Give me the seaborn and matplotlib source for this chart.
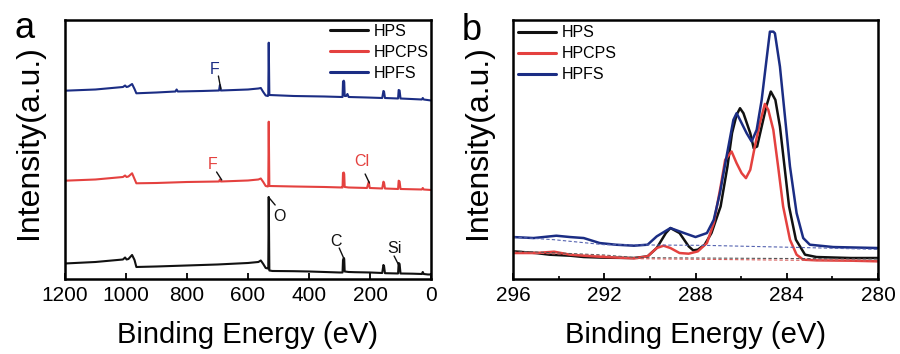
import matplotlib
matplotlib.use("Agg")
import matplotlib.pyplot as plt
import seaborn as sns
import pandas as pd

# ---------------- data: panel a (survey) ----------------
samples = ["HPS", "HPCPS", "HPFS"]
colors = ["#111111", "#e4413f", "#1b2d84"]

hps_E = [1200, 1100, 1010, 1003, 998, 992, 980, 972, 966, 900, 800, 700, 600, 566, 558, 550, 542, 535,
         533.5, 532, 530, 520, 450, 400, 350, 300, 290, 288.5, 286, 284.5, 283, 270, 250, 200, 160, 156,
         154, 151, 108, 106, 103, 100, 60, 30, 27, 24, 10, 0]
hps_I = [16.5, 18, 20.5, 22.5, 20.5, 21, 25, 20, 13, 13.5, 14.5, 15.5, 17, 18, 19.5, 16, 12, 11.5,
         12, 83, 9.5, 9, 8.8, 8.5, 8, 7.5, 7.5, 20, 22, 21, 8.5, 8, 7.8, 7.5, 7, 15,
         14, 6.8, 6.5, 17, 16, 6.5, 6.3, 6, 8, 6, 5.5, 5.5]

hpc_E = [1200, 1100, 1010, 1003, 998, 992, 980, 972, 966, 900, 800, 695, 692, 689, 600, 566, 558, 550,
         542, 535, 533.5, 532, 530, 450, 350, 292, 290, 288.5, 286, 284.5, 283, 270, 210, 204, 201, 160,
         156, 154, 151, 108, 106, 103, 100, 30, 27, 24, 0]
hpc_I = [99.3, 100.5, 103, 104.5, 103, 103.5, 106.7, 101, 96.7, 97, 98, 98.5, 100.5, 98.5, 99.5, 100.5,
         101.5, 98, 94, 93.5, 94, 158.3, 94, 93.5, 93, 92.5, 92.5, 107, 107.5, 106, 93, 92.5, 92, 98.3,
         92, 91.5, 98.3, 97.5, 91.5, 91, 99.3, 98.5, 91, 90.5, 92, 90.5, 90]

hpf_E = [1200, 1100, 1010, 1003, 998, 992, 980, 972, 966, 900, 838, 834, 830, 750, 695, 692, 689, 600,
         566, 558, 550, 542, 535, 533.5, 532, 530, 450, 350, 292, 290, 288.5, 286, 284.5, 283, 278, 274,
         270, 210, 160, 156, 154, 151, 108, 106, 103, 100, 30, 27, 24, 0]
hpf_I = [189.3, 190.5, 193, 194.5, 193, 193.5, 196, 191, 186.7, 187.5, 188.5, 190.5, 188.5, 189, 189.5,
         195, 189.5, 190.5, 191.5, 192, 188, 184.5, 184, 184.5, 237.3, 185, 184, 183.5, 183, 183, 198.5,
         199.3, 198, 184, 184, 186, 183, 182.5, 182, 189, 188.5, 182, 181.5, 190, 189.5, 181.5, 180.5,
         182, 180.5, 179.5]

# annotations panel a: (label, sample, text E, text I, leader start, leader end)
ann_labels = ["O", "C", "Si", "F", "Cl", "F"]
ann_sample = ["HPS", "HPS", "HPS", "HPCPS", "HPCPS", "HPFS"]
ann_text_E = [497, 311, 121, 716, 227, 708]
ann_text_I = [63, 38, 31, 115, 118, 210]
ann_l0_E = [533, 301, 121, 703, 216, 697]
ann_l0_I = [83, 32, 24, 108, 106, 204]
ann_l1_E = [511, 285, 106, 686, 202, 689]
ann_l1_I = [75, 21, 15, 100, 97, 191]

# ---------------- data: panel b (C 1s) ----------------
hps_bE = [296, 295.0, 294.4, 293.5, 292.9, 292.0, 290.7, 290.1, 289.7, 289.3, 289.1, 288.7, 288.3, 288.1,
          287.9, 287.6, 287.3, 286.9, 286.6, 286.4, 286.2, 286.05, 285.9, 285.6, 285.45, 285.3, 285.1,
          284.9, 284.7, 284.5, 284.3, 284.1, 283.9, 283.6, 283.2, 282.7, 281.2, 280]
hps_bI = [85, 80, 75, 72, 68, 66, 65, 70, 95, 140, 155, 140, 100, 88, 90, 105, 140, 220, 340, 440, 495,
          515, 500, 440, 395, 400, 460, 520, 565, 540, 460, 340, 220, 120, 75, 68, 65, 65]

hpc_bE = [296, 295.0, 294.2, 293.5, 292.9, 292.0, 290.7, 290.1, 289.7, 289.4, 289.1, 288.7, 288.3, 287.9,
          287.5, 287.2, 286.9, 286.7, 286.42, 286.2, 285.98, 285.79, 285.6, 285.4, 285.18, 284.96, 284.81,
          284.59, 284.38, 284.16, 283.86, 283.57, 283.28, 282.7, 281.2, 280]
hpc_bI = [80, 80, 84, 75, 72, 68, 64, 70, 95, 102, 95, 80, 78, 85, 110, 170, 280, 360, 385, 350, 320,
          305, 330, 400, 470, 528, 510, 450, 340, 220, 120, 75, 60, 58, 57, 55]

hpf_bE = [296, 295.1, 294.1, 293.5, 292.9, 292.2, 291.5, 290.7, 290.1, 289.7, 289.1, 288.5, 288.0, 287.5,
          287.2, 286.93, 286.64, 286.34, 286.2, 286.05, 285.76, 285.54, 285.32, 285.1, 284.89, 284.74,
          284.59, 284.52, 284.3, 284.08, 283.86, 283.57, 283.28, 282.99, 281.97, 280]
hpf_bI = [128, 125, 132, 128, 125, 110, 105, 102, 105, 130, 155, 140, 128, 140, 180, 260, 370, 480, 500,
          480, 440, 415, 450, 540, 660, 745, 745, 740, 640, 490, 340, 200, 125, 105, 98, 95]

# Shirley-type backgrounds (dashed)
hps_bgE = [296, 292, 290.6, 280]
hps_bgI = [86, 74, 66, 62]
hpc_bgE = [296, 292, 290.6, 280]
hpc_bgI = [82, 72, 63, 56]
hpf_bgE = [296, 294.2, 292.0, 287.6, 283, 280]
hpf_bgI = [128, 120, 105, 103, 96, 91]

xticks_a = [1200, 1000, 800, 600, 400, 200, 0]
xticks_b = [296, 292, 288, 284, 280]
xminor_b = [294, 290, 286, 282]

# ---------------- style ----------------
sns.set_style("ticks")
plt.rcParams["font.family"] = ["Liberation Sans", "DejaVu Sans"]
plt.rcParams["text.color"] = "black"
plt.rcParams["axes.labelcolor"] = "black"
plt.rcParams["xtick.color"] = "black"
plt.rcParams["xtick.labelcolor"] = "black"

fig = plt.figure(figsize=(9, 3.54), dpi=100)
ax_a = fig.add_axes([0.0722, 0.2119, 0.4067, 0.7316])
ax_b = fig.add_axes([0.5700, 0.2119, 0.4056, 0.7316])

palette = dict(zip(samples, colors))

survey = pd.concat([
    pd.DataFrame({"E": hps_E, "I": hps_I, "sample": "HPS"}),
    pd.DataFrame({"E": hpc_E, "I": hpc_I, "sample": "HPCPS"}),
    pd.DataFrame({"E": hpf_E, "I": hpf_I, "sample": "HPFS"}),
])
sns.lineplot(data=survey, x="E", y="I", hue="sample", hue_order=samples, palette=palette,
             estimator=None, sort=False, lw=1.5, ax=ax_a)

c1s = pd.concat([
    pd.DataFrame({"E": hps_bE, "I": hps_bI, "sample": "HPS"}),
    pd.DataFrame({"E": hpc_bE, "I": hpc_bI, "sample": "HPCPS"}),
    pd.DataFrame({"E": hpf_bE, "I": hpf_bI, "sample": "HPFS"}),
])
sns.lineplot(data=c1s, x="E", y="I", hue="sample", hue_order=samples, palette=palette,
             estimator=None, sort=False, lw=1.8, ax=ax_b)

bg = pd.concat([
    pd.DataFrame({"E": hps_bgE, "I": hps_bgI, "sample": "HPS"}),
    pd.DataFrame({"E": hpc_bgE, "I": hpc_bgI, "sample": "HPCPS"}),
    pd.DataFrame({"E": hpf_bgE, "I": hpf_bgI, "sample": "HPFS"}),
])
bg_pal = {"HPS": "#555555", "HPCPS": "#d85a58", "HPFS": "#5563b0"}
sns.lineplot(data=bg, x="E", y="I", hue="sample", hue_order=samples, palette=bg_pal,
             estimator=None, sort=False, lw=0.8, ls=(0, (3, 2)), legend=False, ax=ax_b)

# annotations
for lab, s, tx, ty, x0, y0, x1, y1 in zip(ann_labels, ann_sample, ann_text_E, ann_text_I,
                                          ann_l0_E, ann_l0_I, ann_l1_E, ann_l1_I):
    col = palette[s]
    ax_a.text(tx, ty, lab, color=col, fontsize=11.5, ha="center", va="center")
    ax_a.plot([x0, x1], [y0, y1], color="#111111", lw=1.0)

for ax, lim, ticks in [(ax_a, (1200, 0), xticks_a), (ax_b, (296, 280), xticks_b)]:
    ax.set_xlim(*lim)
    ax.set_xticks(ticks)
    ax.set_xticklabels([str(t) for t in ticks])
    ax.set_yticks([])
    ax.set_ylabel("Intensity(a.u.)", fontsize=23, color="black")
    ax.set_xlabel("Binding Energy (eV)", fontsize=21, va="baseline", color="black")
    ax.tick_params(axis="x", direction="in", length=4, width=1.3, labelsize=15, pad=5,
                   color="black", labelcolor="black")
    for sp in ax.spines.values():
        sp.set_visible(True)
        sp.set_linewidth(1.8)
        sp.set_color("black")
    h, l = ax.get_legend_handles_labels()
    leg = ax.legend(h, l, frameon=False, fontsize=11.5, loc="upper left",
                    handlelength=2.4, handletextpad=0.35, labelspacing=0.38,
                    borderpad=0, borderaxespad=0)
    for line in leg.get_lines():
        line.set_linewidth(2.2)
    for t in leg.get_texts():
        t.set_color("black")

ax_a.set_ylim(1, 260)
ax_b.set_ylim(2, 780)
ax_b.set_xticks(xminor_b, minor=True)
ax_b.tick_params(axis="x", which="minor", direction="in", length=2.5, width=1.2, color="black")

ax_a.get_legend().set_bbox_to_anchor((0.724, 0.985))
ax_b.get_legend().set_bbox_to_anchor((0.014, 0.980))

ax_a.xaxis.set_label_coords(0.5, -0.247)
ax_b.xaxis.set_label_coords(0.5, -0.247)
ax_a.yaxis.set_label_coords(-0.057, 0.53)
ax_b.yaxis.set_label_coords(-0.055, 0.53)

fig.text(15 / 900, 1 - 38 / 354, "a", fontsize=26, va="baseline", ha="left", color="black")
fig.text(462 / 900, 1 - 40 / 354, "b", fontsize=26, va="baseline", ha="left", color="black")

fig.savefig("out.png", dpi=100)
